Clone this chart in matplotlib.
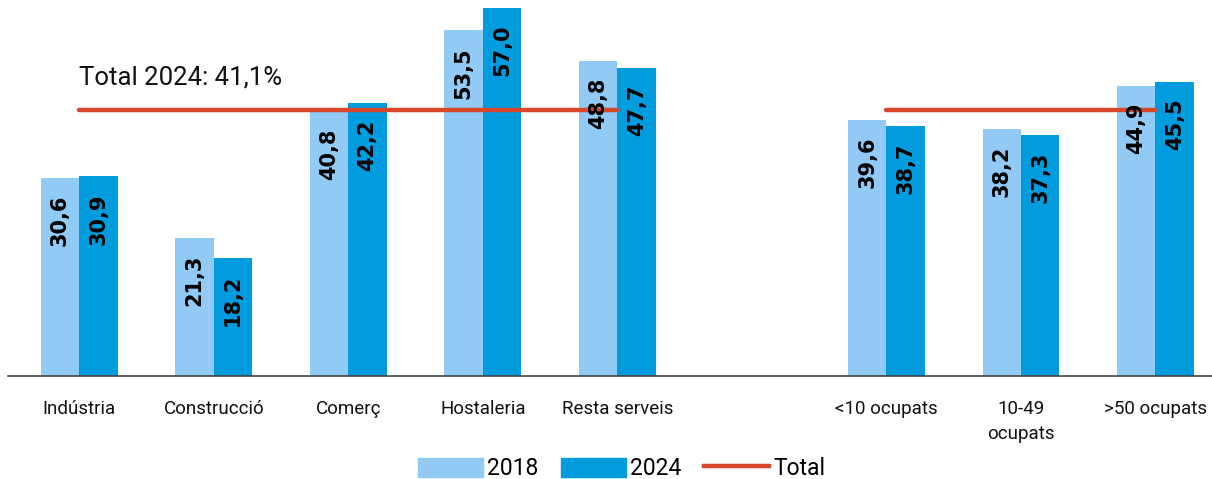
import numpy as np
import matplotlib
matplotlib.use("Agg")
import matplotlib.pyplot as plt
from matplotlib.patches import Patch
from matplotlib.lines import Line2D

categories = ["Indústria", "Construcció", "Comerç", "Hostaleria", "Resta serveis",
              "", "<10 ocupats", "10-49\nocupats", ">50 ocupats"]
vals_2018 = [30.6, 21.3, 40.8, 53.5, 48.8, np.nan, 39.6, 38.2, 44.9]
vals_2024 = [30.9, 18.2, 42.2, 57.0, 47.7, np.nan, 38.7, 37.3, 45.5]
total = [41.1, 41.1, 41.1, 41.1, 41.1, np.nan, 41.1, 41.1, 41.1]
total_label = "Total 2024: 41,1%"

c18 = "#90CAF5"
c24 = "#009CDE"
cred = "#D8472A"

plt.rcParams['font.family'] = ['Roboto', 'DejaVu Sans']

fig = plt.figure(figsize=(12.12, 4.79), dpi=100)
ax = fig.add_axes([8 / 1212, 1 - 376 / 479, 1 - 8 / 1212, 376 / 479])

x = np.arange(len(categories))
w = 0.286
b1 = ax.bar(x - w / 2, vals_2018, w, color=c18)
b2 = ax.bar(x + w / 2, vals_2024, w, color=c24)
ax.plot(x, total, color=cred, lw=3.2, solid_capstyle='round', zorder=3)

def label_bars(bars, values):
    for bar, v in zip(bars, values):
        if np.isnan(v):
            continue
        ax.annotate(f"{v:.1f}".replace(".", ","),
                    (bar.get_x() + bar.get_width() / 2, v),
                    xytext=(0, -12), textcoords='offset points',
                    rotation=90, ha='center', va='top',
                    fontsize=15, fontweight='bold', family='DejaVu Sans',
                    color='black', zorder=4)

label_bars(b1, vals_2018)
label_bars(b2, vals_2024)

ax.text(0.0, 46.2, total_label, fontsize=18.5, va='center', ha='left', color='#111111')

ax.set_xlim(-0.53, 8.42)
ax.set_ylim(0, 58.2)
ax.set_xticks(x)
ax.set_xticklabels(categories, fontsize=13.5, color='#111111', linespacing=1.5)
ax.tick_params(axis='x', length=0, pad=17)
ax.set_yticks([])
for s in ['top', 'right', 'left']:
    ax.spines[s].set_visible(False)
ax.spines['bottom'].set_color('#444444')
ax.spines['bottom'].set_linewidth(1.2)

handles = [Patch(color=c18, label="2018"), Patch(color=c24, label="2024"),
           Line2D([0], [0], color=cred, lw=3.2, label="Total")]
fig.legend(handles=handles, loc='center', bbox_to_anchor=(0.513, 0.022), ncol=3,
           frameon=False, fontsize=16.5, handlelength=2.8, handleheight=0.9,
           handletextpad=0.2, columnspacing=1.0)

fig.savefig("out.png", dpi=100)
